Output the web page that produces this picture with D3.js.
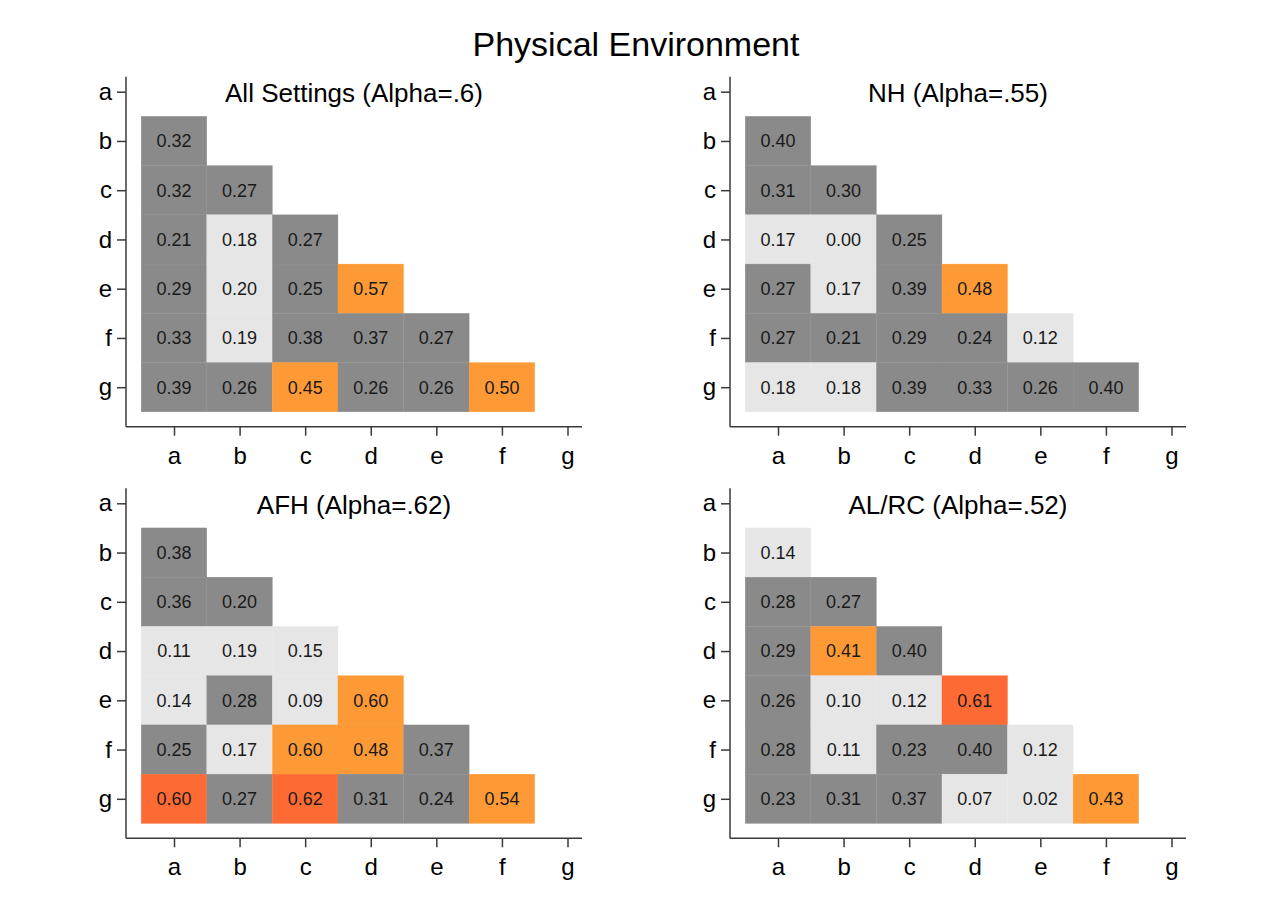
<!DOCTYPE html>
<html>
<head>
<meta charset="utf-8">
<script src="https://cdn.jsdelivr.net/npm/d3@7/dist/d3.min.js"></script>
<style>
  html, body { margin: 0; padding: 0; background: #fff; }
  svg { display: block; font-family: "Liberation Sans", Arial, sans-serif; }
</style>
</head>
<body>
<svg id="chart" width="1265" height="904"></svg>
<script>
// Item labels on both axes
const items = ["a", "b", "c", "d", "e", "f", "g"];

// Lower-triangle inter-item correlations, rows b..g, columns a..(row-1)
const allSettings = [
  [0.32],
  [0.32, 0.27],
  [0.21, 0.18, 0.27],
  [0.29, 0.198, 0.25, 0.57],
  [0.33, 0.19, 0.38, 0.37, 0.27],
  [0.39, 0.26, 0.45, 0.26, 0.26, 0.50]
];
const nh = [
  [0.398],
  [0.31, 0.30],
  [0.17, 0.00, 0.25],
  [0.27, 0.17, 0.39, 0.48],
  [0.27, 0.21, 0.29, 0.24, 0.12],
  [0.18, 0.18, 0.39, 0.33, 0.26, 0.398]
];
const afh = [
  [0.38],
  [0.36, 0.20],
  [0.11, 0.19, 0.15],
  [0.14, 0.28, 0.09, 0.598],
  [0.25, 0.17, 0.597, 0.48, 0.37],
  [0.603, 0.27, 0.62, 0.31, 0.24, 0.54]
];
const alrc = [
  [0.14],
  [0.28, 0.27],
  [0.29, 0.41, 0.399],
  [0.26, 0.10, 0.12, 0.61],
  [0.28, 0.11, 0.23, 0.399, 0.12],
  [0.23, 0.31, 0.37, 0.07, 0.02, 0.43]
];

const panelTitles = ["All Settings (Alpha=.6)", "NH (Alpha=.55)", "AFH (Alpha=.62)", "AL/RC (Alpha=.52)"];
const panelData = [allSettings, nh, afh, alrc];
const mainTitle = "Physical Environment";

const svg = d3.select("#chart");

// Correlation bands: < .2, .2–.4, .4–.6, >= .6
const color = d3.scaleThreshold()
  .domain([0.2, 0.4, 0.6])
  .range(["#e6e6e6", "#8a8a8a", "#fe9a35", "#fe6a33"]);
const fmt = d3.format(".2f");

svg.append("text")
  .attr("x", 636).attr("y", 56)
  .attr("text-anchor", "middle")
  .attr("font-size", 34)
  .attr("fill", "#000")
  .text(mainTitle);

// Panel frames: left edge of the plot area (y-axis) and top/bottom of the y-axis
const frames = [
  { left: 126, top: 76.7, bottom: 426.7, width: 456 },
  { left: 730, top: 76.7, bottom: 426.7, width: 456 },
  { left: 126, top: 488.3, bottom: 838.3, width: 456 },
  { left: 730, top: 488.3, bottom: 838.3, width: 456 }
];

panelData.forEach((rows, p) => {
  const f = frames[p];
  const g = svg.append("g");

  const x = d3.scalePoint().domain(items).range([f.left + 48, f.left + 441.5]);
  const y = d3.scalePoint().domain(items).range([f.top + 15, f.top + 310.5]);
  const cw = x.step(), ch = y.step();

  // flatten the triangle into cells
  const cells = [];
  rows.forEach((r, i) => r.forEach((v, j) => cells.push({ row: items[i + 1], col: items[j], v })));

  g.selectAll("rect.cell").data(cells).join("rect")
    .attr("class", "cell")
    .attr("x", d => x(d.col) - cw / 2)
    .attr("y", d => y(d.row) - ch / 2)
    .attr("width", cw)
    .attr("height", ch)
    .attr("fill", d => color(d.v))
    .attr("stroke", d => color(d.v))
    .attr("stroke-width", 0.3);

  g.selectAll("text.val").data(cells).join("text")
    .attr("class", "val")
    .attr("x", d => x(d.col))
    .attr("y", d => y(d.row))
    .attr("dy", "0.35em")
    .attr("text-anchor", "middle")
    .attr("font-size", 18)
    .attr("fill", "#1a1a1a")
    .text(d => fmt(d.v));

  // Axes
  const xAxis = g.append("g")
    .attr("transform", `translate(0,${f.bottom})`)
    .call(d3.axisBottom(x).tickSize(9).tickSizeOuter(0).tickPadding(11));
  const yAxis = g.append("g")
    .attr("transform", `translate(${f.left},0)`)
    .call(d3.axisLeft(y).tickSize(9).tickSizeOuter(0).tickPadding(5));
  [xAxis, yAxis].forEach(a => {
    a.select(".domain").remove();
    a.selectAll(".tick line").attr("stroke", "#3a3a3a").attr("stroke-width", 1.5);
    a.selectAll(".tick text").attr("font-size", 24).attr("fill", "#000")
      .attr("font-family", "'Liberation Sans', Arial, sans-serif");
  });

  // Axis lines spanning the whole plot region
  g.append("line")
    .attr("x1", f.left).attr("x2", f.left)
    .attr("y1", f.top).attr("y2", f.bottom)
    .attr("stroke", "#3a3a3a").attr("stroke-width", 1.5);
  g.append("line")
    .attr("x1", f.left).attr("x2", f.left + f.width)
    .attr("y1", f.bottom).attr("y2", f.bottom)
    .attr("stroke", "#3a3a3a").attr("stroke-width", 1.5);

  g.append("text")
    .attr("x", f.left + f.width / 2)
    .attr("y", y("a") + 10.5)
    .attr("text-anchor", "middle")
    .attr("font-size", 26)
    .attr("fill", "#000")
    .text(panelTitles[p]);
});
</script>
</body>
</html>
